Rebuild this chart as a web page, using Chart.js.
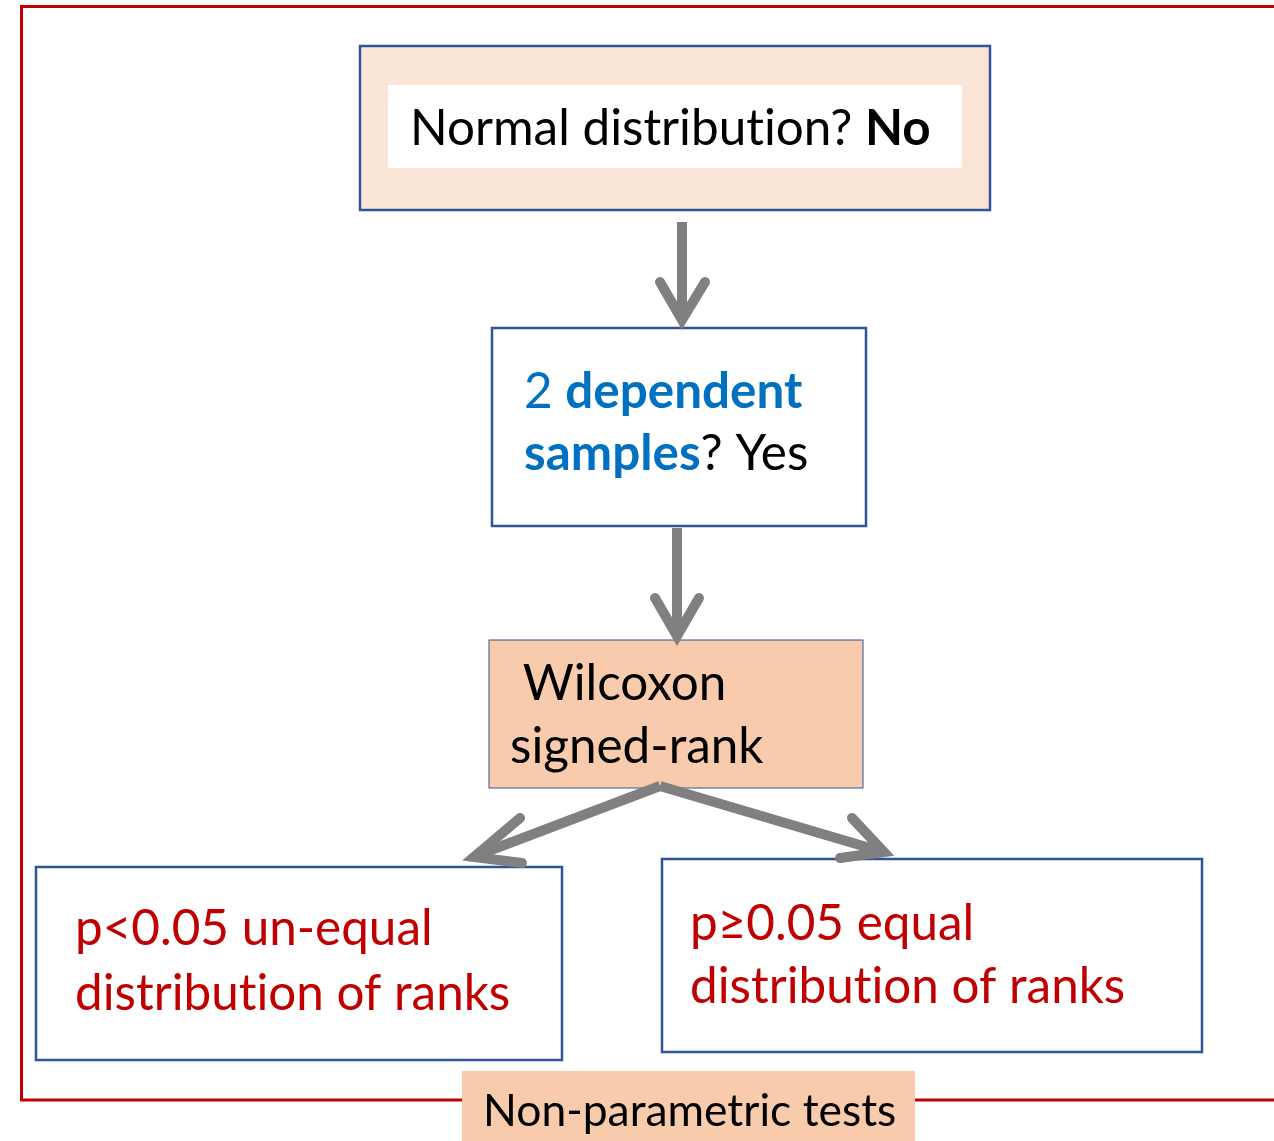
<!DOCTYPE html>
<html>
<head>
<meta charset="utf-8">
<script src="https://cdn.jsdelivr.net/npm/chart.js@4/dist/chart.umd.min.js"></script>
<style>
    body { margin: 0; background: #ffffff; }
    canvas { display: block; font-variant-ligatures: none; }
</style>
</head>
<body>
<canvas id="flow" width="1274" height="1141"></canvas>
<script>
// flowchart content
const nodeNames = ['normal', 'dependent', 'wilcoxon', 'unequal', 'equal', 'footer'];
// each line is a list of [text, bold, colour] runs
const nodeLines = [
    [[['Normal distribution? ', false, 'black'], ['No', true, 'black']]],
    [[['2 ', false, 'blue'], ['dependent', true, 'blue']],
     [['samples', true, 'blue'], ['? Yes', false, 'black']]],
    [[[' Wilcoxon', false, 'black']], [['signed-rank', false, 'black']]],
    [[['p<0.05 un-equal', false, 'red']], [['distribution of ranks', false, 'red']]],
    [[['p\u22650.05 equal', false, 'red']], [['distribution of ranks', false, 'red']]],
    [[['Non-parametric tests', false, 'black']]]
];
const edgeFrom = ['normal', 'dependent', 'wilcoxon', 'wilcoxon'];
const edgeTo = ['dependent', 'wilcoxon', 'unequal', 'equal'];

// layout (in picture units, mapped through the scales)
const boxLeft   = [360, 492, 489, 36, 662, 462];
const boxTop    = [46, 328, 640, 867, 859, 1071];
const boxRight  = [990, 866, 863, 562, 1202, 915];
const boxBottom = [210, 526, 788, 1060, 1052, 1145];
const textLeft  = [410, 524, 510, 75, 690, 483];
const textBase  = [[145], [408, 470], [700, 763], [945, 1010], [940, 1003], [1126]];
const textScale = [1, 1, 1, 1, 1, 0.9];
const edgeShaft = [
    [[682, 222], [682, 316]],
    [[677, 528], [677, 632]],
    [[660, 786], [478, 855]],
    [[660, 786], [880, 851]]
];
const edgeHead = [
    [[660, 282], [682, 320], [705, 282]],
    [[655, 598], [677, 636], [699, 598]],
    [[520, 818], [474, 857], [522, 863]],
    [[852, 818], [884, 852], [840, 858]]
];

const palette = {
    black: '#000000',
    blue: '#0070C0',
    red: '#C00000',
    frame: '#C00000',
    border: '#2F5597',
    arrow: '#808080',
    peachLight: '#FBE5D6',
    peach: '#F8CBAD'
};
const boxFill = ['peachLight', null, 'peach', null, null, 'peach'];
const boxBorder = [2.5, 2.5, 1, 2.5, 2.5, 0];

const FONT = 'Lato, "Open Sans", sans-serif';

const datasets = [];
edgeShaft.forEach(pts => {
    datasets.push({
        data: pts.map(p => ({ x: p[0], y: p[1] })),
        showLine: true,
        borderColor: palette.arrow,
        borderWidth: 10,
        borderCapStyle: 'butt',
        pointRadius: 0
    });
});
edgeHead.forEach(pts => {
    datasets.push({
        data: pts.map(p => ({ x: p[0], y: p[1] })),
        showLine: true,
        borderColor: palette.arrow,
        borderWidth: 10,
        borderCapStyle: 'round',
        borderJoinStyle: 'miter',
        pointRadius: 0
    });
});

const flowPlugin = {
    id: 'flowBoxes',
    beforeDatasetsDraw(chart) {
        const ctx = chart.ctx;
        const xs = chart.scales.x, ys = chart.scales.y;
        ctx.save();

        // outer red frame
        ctx.strokeStyle = palette.frame;
        ctx.lineWidth = 3;
        ctx.beginPath();
        ctx.moveTo(xs.getPixelForValue(1290), ys.getPixelForValue(6.5));
        ctx.lineTo(xs.getPixelForValue(21.5), ys.getPixelForValue(6.5));
        ctx.lineTo(xs.getPixelForValue(21.5), ys.getPixelForValue(1100));
        ctx.lineTo(xs.getPixelForValue(1290), ys.getPixelForValue(1100));
        ctx.stroke();

        nodeNames.forEach((name, i) => {
            const x0 = xs.getPixelForValue(boxLeft[i]);
            const x1 = xs.getPixelForValue(boxRight[i]);
            const y0 = ys.getPixelForValue(boxTop[i]);
            const y1 = ys.getPixelForValue(boxBottom[i]);
            ctx.fillStyle = boxFill[i] ? palette[boxFill[i]] : '#ffffff';
            ctx.fillRect(x0, y0, x1 - x0, y1 - y0);
            if (name === 'normal') {
                // white label plate inside the top box
                ctx.fillStyle = '#ffffff';
                ctx.fillRect(xs.getPixelForValue(388), ys.getPixelForValue(85),
                    xs.getPixelForValue(962) - xs.getPixelForValue(388),
                    ys.getPixelForValue(168) - ys.getPixelForValue(85));
            }
            if (boxBorder[i] > 0) {
                ctx.strokeStyle = palette.border;
                ctx.lineWidth = boxBorder[i];
                ctx.strokeRect(x0, y0, x1 - x0, y1 - y0);
            }
        });
        ctx.restore();
    },
    afterDatasetsDraw(chart) {
        const ctx = chart.ctx;
        const xs = chart.scales.x, ys = chart.scales.y;
        ctx.save();
        // no "ti" ligatures
        if ('textRendering' in ctx) ctx.textRendering = 'optimizeSpeed';
        if ('letterSpacing' in ctx) ctx.letterSpacing = '0.01px';

        // calibrate one font size so a reference line has the width seen in the picture
        ctx.font = '100px ' + FONT;
        const size = 100 * 435 / ctx.measureText('distribution of ranks').width;

        ctx.textBaseline = 'alphabetic';
        ctx.textAlign = 'left';
        nodeLines.forEach((lines, i) => {
            lines.forEach((runs, j) => {
                let x = xs.getPixelForValue(textLeft[i]);
                const y = ys.getPixelForValue(textBase[i][j]);
                runs.forEach(r => {
                    ctx.font = (r[1] ? 'bold ' : '') + (size * textScale[i]).toFixed(1) + 'px ' + FONT;
                    ctx.fillStyle = palette[r[2]];
                    ctx.fillText(r[0], x, y);
                    x += ctx.measureText(r[0]).width;
                });
            });
        });
        ctx.restore();
    }
};

new Chart(document.getElementById('flow').getContext('2d'), {
    type: 'scatter',
    data: { datasets: datasets },
    options: {
        responsive: false,
        animation: false,
        layout: { padding: 0 },
        scales: {
            x: { type: 'linear', min: 0, max: 1274, display: false },
            y: { type: 'linear', min: 0, max: 1141, reverse: true, display: false }
        },
        plugins: {
            legend: { display: false },
            tooltip: { enabled: false }
        },
        elements: { line: { tension: 0 } }
    },
    plugins: [flowPlugin]
});
</script>
</body>
</html>
